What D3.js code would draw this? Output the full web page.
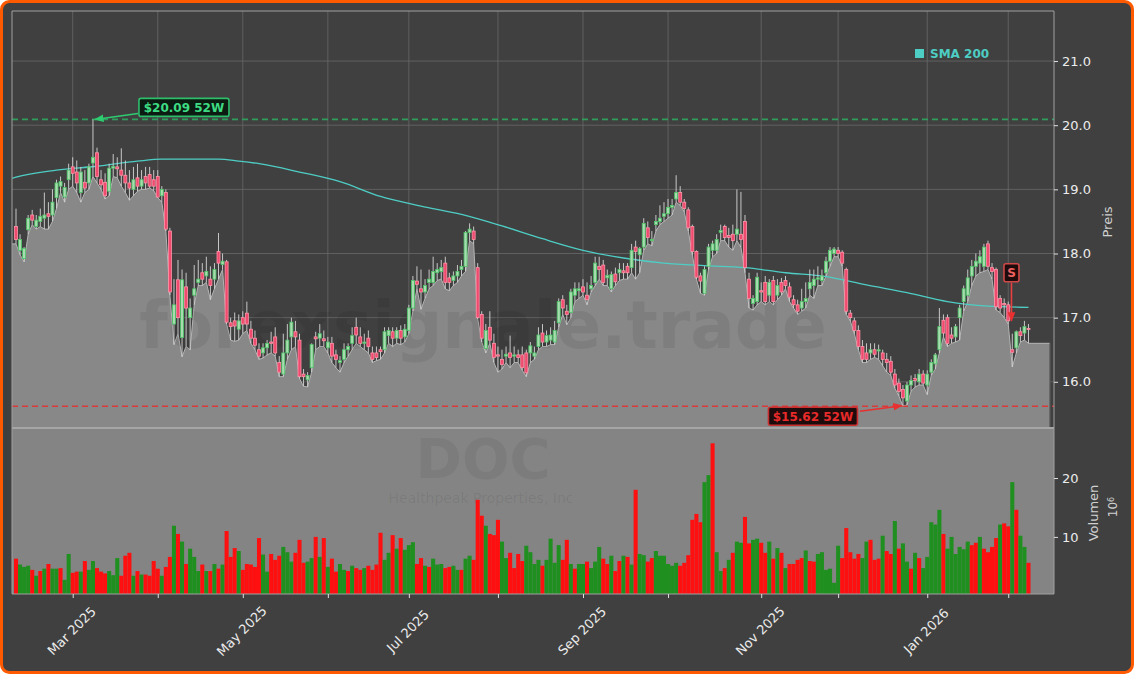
<!DOCTYPE html>
<html><head><meta charset="utf-8">
<script src="https://cdn.jsdelivr.net/npm/d3@7"></script>
<style>html,body{margin:0;padding:0;background:#ffffff;} svg{display:block;font-family:"DejaVu Sans",sans-serif;}</style>
</head><body><svg id="c" width="1134" height="674"></svg>
<script>
// ---------- DATA (trading-day index 0 = 2025-02-10) ----------
const opens=[18.42,18.05,17.92,18.37,18.60,18.42,18.50,18.55,18.62,18.60,18.87,19.05,18.88,19.15,19.35,19.27,18.95,19.11,19.10,19.41,19.57,19.15,19.11,18.97,19.33,19.35,19.30,19.22,19.10,19.00,19.18,19.05,19.20,19.23,19.15,19.20,18.90,18.95,18.35,16.90,17.59,16.69,17.48,17.00,17.35,17.55,17.70,17.65,17.60,17.60,18.03,17.83,17.87,16.92,16.95,16.82,17.00,17.07,16.82,16.68,16.50,16.45,16.53,16.62,16.70,16.30,16.12,16.45,16.70,16.78,16.65,16.12,16.03,16.22,16.70,16.68,16.67,16.53,16.60,16.42,16.30,16.35,16.50,16.60,16.85,16.70,16.60,16.68,16.45,16.45,16.50,16.50,16.72,16.78,16.68,16.80,16.70,16.80,17.15,17.57,17.45,17.40,17.55,17.55,17.70,17.72,17.85,17.62,17.58,17.65,17.75,17.80,18.33,18.35,17.78,17.05,16.52,16.85,16.60,16.42,16.35,16.40,16.45,16.40,16.42,16.42,16.45,16.45,16.40,16.55,16.76,16.62,16.65,16.62,16.92,17.28,17.10,17.08,17.35,17.42,17.48,17.35,17.45,17.55,17.80,17.82,17.62,17.45,17.68,17.70,17.73,17.80,17.78,18.10,17.98,18.10,18.40,18.20,18.45,18.50,18.58,18.62,18.72,18.85,18.95,18.80,18.68,18.42,18.03,17.65,17.38,17.80,18.05,18.05,18.33,18.42,18.28,18.30,18.30,18.30,18.50,17.60,17.22,17.25,17.42,17.55,17.35,17.58,17.35,17.55,17.58,17.48,17.28,17.20,17.15,17.25,17.45,17.50,17.60,17.58,17.70,17.88,18.00,18.05,18.02,17.75,17.07,16.95,16.80,16.55,16.45,16.45,16.50,16.48,16.45,16.35,16.32,16.12,15.98,15.88,15.70,15.95,16.05,16.00,16.12,15.95,16.15,16.28,16.50,16.96,17.00,16.73,16.70,17.00,17.25,17.35,17.65,17.80,17.85,17.80,18.15,17.78,17.75,17.30,17.22,17.20,16.50,16.53,16.78,16.76,16.83];
const highs=[18.70,18.30,18.10,18.60,18.68,18.60,18.70,18.95,18.80,19.00,19.15,19.20,19.10,19.40,19.50,19.45,19.35,19.30,19.40,20.09,19.65,19.30,19.25,19.40,19.55,19.50,19.64,19.45,19.30,19.35,19.40,19.30,19.35,19.35,19.30,19.30,19.05,19.00,18.40,17.60,17.90,17.75,17.70,17.30,17.82,17.90,17.85,17.95,17.80,17.85,18.32,18.00,17.90,17.00,17.08,17.05,17.10,17.25,16.95,16.80,16.60,16.60,16.65,16.78,16.85,16.40,16.75,16.90,17.00,16.95,16.75,16.20,16.15,16.60,16.78,16.90,16.80,16.70,16.70,16.50,16.40,16.60,16.60,16.85,17.00,16.85,16.75,16.80,16.55,16.55,16.55,16.85,16.85,16.85,16.85,16.88,16.90,17.20,17.65,17.80,17.75,17.60,17.75,17.95,17.85,17.90,17.95,17.70,17.72,17.82,17.90,18.35,18.47,18.42,17.85,17.10,16.90,17.10,16.75,16.55,16.50,16.55,16.72,16.55,16.50,16.55,16.50,16.62,16.55,16.85,16.90,16.80,16.85,16.95,17.30,17.35,17.20,17.45,17.55,17.55,17.60,17.55,17.65,17.95,17.95,17.90,17.75,17.72,17.78,17.85,17.85,17.85,18.15,18.20,18.10,18.55,18.50,18.35,18.60,18.75,18.80,18.85,18.85,19.22,19.05,18.85,18.72,18.45,18.05,17.70,17.80,18.15,18.20,18.30,18.45,18.45,18.40,18.45,19.00,18.96,18.60,17.70,17.35,17.70,17.55,17.65,17.60,17.65,17.60,17.62,17.65,17.55,17.35,17.28,17.45,17.55,17.75,17.75,17.80,17.75,17.95,18.10,18.10,18.10,18.05,17.78,17.12,17.00,16.88,16.65,16.60,16.60,16.60,16.58,16.50,16.45,16.40,16.20,16.05,15.95,16.00,16.10,16.12,16.20,16.18,16.18,16.35,16.45,17.15,17.05,17.05,16.85,16.90,17.20,17.50,17.75,17.90,18.00,18.05,18.15,18.20,17.85,17.78,17.35,17.30,17.25,16.75,16.80,16.85,16.95,16.90];
const lows=[18.15,17.98,17.87,18.30,18.45,18.38,18.42,18.38,18.38,18.50,18.70,18.95,18.80,19.00,19.05,18.95,18.80,18.95,19.00,19.20,19.10,19.00,18.85,18.90,19.20,19.18,19.05,18.95,18.83,18.90,18.97,19.00,19.00,19.02,18.98,18.87,18.80,18.35,17.35,16.58,16.75,16.39,16.55,16.50,17.20,17.50,17.50,17.55,17.28,17.45,17.60,17.75,16.90,16.65,16.63,16.65,16.75,16.80,16.60,16.50,16.35,16.37,16.42,16.45,16.40,16.08,16.08,16.35,16.50,16.55,16.05,15.93,15.92,16.15,16.50,16.55,16.55,16.45,16.30,16.22,16.15,16.30,16.40,16.50,16.60,16.55,16.50,16.45,16.30,16.33,16.35,16.45,16.60,16.55,16.60,16.58,16.62,16.75,17.10,17.45,17.13,17.30,17.45,17.50,17.58,17.60,17.45,17.42,17.50,17.55,17.65,17.72,18.20,18.15,16.98,16.62,16.45,16.60,16.30,16.15,16.20,16.30,16.22,16.30,16.30,16.18,16.08,16.30,16.35,16.50,16.55,16.55,16.58,16.58,16.85,17.05,16.89,17.00,17.25,17.30,17.35,17.20,17.40,17.50,17.60,17.50,17.50,17.40,17.50,17.58,17.60,17.60,17.70,17.60,17.70,18.05,18.15,18.12,18.35,18.45,18.50,18.55,18.60,18.80,18.75,18.65,18.35,17.98,17.60,17.38,17.35,17.75,17.95,18.00,18.20,18.20,18.10,18.05,18.20,18.10,17.70,17.15,17.12,17.20,17.25,17.20,17.25,17.20,17.28,17.35,17.45,17.25,17.15,17.05,17.10,17.15,17.35,17.30,17.50,17.50,17.65,17.80,17.95,17.95,17.80,17.05,16.95,16.75,16.50,16.30,16.30,16.35,16.38,16.35,16.25,16.15,16.10,15.90,15.78,15.62,15.64,15.85,15.92,15.95,15.95,15.80,16.10,16.20,16.45,16.70,16.55,16.60,16.62,16.65,17.10,17.25,17.50,17.65,17.70,17.72,17.75,17.60,17.12,17.08,17.00,16.90,16.23,16.45,16.62,16.65,16.60];
const closes=[18.22,18.22,18.08,18.55,18.52,18.52,18.58,18.60,18.58,18.80,19.10,19.12,19.03,19.30,19.25,19.10,19.27,19.02,19.35,19.50,19.20,19.07,18.90,19.33,19.36,19.32,19.22,19.10,19.02,19.15,19.05,19.15,19.10,19.05,19.05,18.88,19.00,18.38,17.40,17.20,17.00,17.59,17.15,17.15,17.45,17.60,17.60,17.72,17.50,17.75,17.85,17.88,16.93,16.86,16.87,16.95,16.90,16.90,16.68,16.57,16.40,16.53,16.60,16.60,16.45,16.15,16.45,16.65,16.93,16.70,16.08,16.08,16.10,16.58,16.67,16.75,16.64,16.62,16.40,16.35,16.33,16.50,16.55,16.72,16.73,16.60,16.62,16.55,16.35,16.38,16.47,16.78,16.80,16.68,16.80,16.68,16.82,17.15,17.58,17.52,17.40,17.50,17.60,17.72,17.75,17.78,17.55,17.55,17.65,17.72,17.80,18.33,18.38,18.22,17.00,16.68,16.80,16.65,16.38,16.40,16.27,16.43,16.38,16.42,16.38,16.22,16.14,16.56,16.45,16.73,16.62,16.72,16.73,16.80,17.25,17.15,17.05,17.40,17.45,17.45,17.40,17.28,17.50,17.85,17.75,17.55,17.66,17.67,17.56,17.75,17.70,17.70,18.05,18.03,18.08,18.47,18.25,18.22,18.50,18.55,18.62,18.72,18.75,18.95,18.80,18.70,18.40,18.03,17.63,17.57,17.75,18.10,18.15,18.22,18.36,18.25,18.25,18.20,18.38,18.22,17.78,17.30,17.30,17.63,17.40,17.25,17.55,17.25,17.50,17.40,17.50,17.32,17.20,17.10,17.25,17.30,17.55,17.60,17.62,17.65,17.88,18.05,18.07,18.00,17.85,17.10,17.00,16.80,16.55,16.35,16.35,16.50,16.43,16.50,16.35,16.30,16.15,15.95,15.85,15.75,15.95,16.02,16.02,16.12,15.98,16.12,16.30,16.42,16.86,16.76,16.60,16.68,16.86,17.15,17.45,17.62,17.80,17.88,17.95,18.10,17.80,17.72,17.17,17.15,17.20,16.95,16.46,16.78,16.72,16.86,16.82];
const volumes=[6.3,5.3,4.9,5.1,4.4,3.4,4.2,4.6,5.4,4.6,4.6,4.7,2.7,7.1,3.9,4.1,4.1,5.9,4.4,5.9,4.7,4.1,3.8,4.2,3.5,6.4,3.4,6.8,7.3,3.4,4.2,3.6,3.6,3.4,5.9,4.6,3.4,4.9,6.6,11.9,10.5,9.2,5.4,8.0,6.6,4.2,5.3,4.2,4.2,5.4,4.6,5.3,11.0,6.6,8.1,7.6,4.4,5.4,5.3,4.9,9.8,7.0,4.1,7.1,6.1,6.8,8.3,7.4,5.8,7.3,9.5,5.6,5.8,6.4,10.0,6.6,9.8,4.9,6.3,4.1,5.4,4.4,4.2,5.1,4.7,4.4,4.7,5.1,4.4,5.3,10.7,6.1,7.3,10.3,8.0,9.8,7.8,8.6,9.1,5.4,6.4,5.1,4.9,6.3,5.3,5.4,4.7,4.9,5.1,4.4,4.4,6.3,6.8,6.1,16.3,13.6,11.9,10.5,10.3,12.9,9.2,6.4,7.3,4.7,7.1,5.9,8.5,7.4,5.4,6.1,5.1,6.1,9.7,5.6,8.6,6.1,9.5,5.4,4.6,5.4,5.4,5.8,4.7,5.8,8.3,6.3,5.4,6.8,4.2,5.9,6.8,6.6,5.3,18.0,7.1,6.9,5.8,6.4,7.6,6.8,6.8,5.4,5.1,5.6,5.1,5.6,6.9,12.9,13.9,12.5,19.3,20.5,25.9,7.4,4.2,4.7,6.1,7.3,9.2,9.0,13.4,8.9,9.5,9.7,9.0,7.3,9.2,6.3,8.1,7.3,4.7,5.4,5.4,6.1,6.4,7.7,5.9,5.8,7.1,7.4,4.4,4.6,2.2,8.5,6.4,11.5,7.4,6.3,7.1,6.4,9.2,9.5,6.1,6.3,10.2,7.6,7.1,12.7,8.0,8.9,5.8,4.6,7.3,6.4,4.7,6.6,12.5,12.1,14.6,10.5,8.0,10.0,7.1,8.3,7.9,9.2,8.6,9.0,10.0,8.0,7.4,8.3,9.8,12.1,12.3,11.8,19.3,14.6,10.2,8.3,5.6];
const volUp=[0,1,1,1,0,1,0,1,0,1,1,0,1,1,0,0,1,0,1,1,0,0,0,1,1,1,0,0,0,1,0,1,0,0,0,0,1,0,0,1,0,1,0,1,1,1,0,1,0,1,0,1,0,0,0,1,0,0,0,0,0,1,1,0,0,0,1,1,1,0,0,0,1,1,0,1,0,1,0,0,1,1,0,1,0,0,1,0,0,0,0,1,1,0,1,0,1,1,1,0,0,1,0,1,1,1,0,0,1,1,0,1,1,0,0,0,1,0,0,0,1,1,0,0,0,0,1,1,1,1,0,1,1,1,1,0,0,1,0,1,1,0,1,1,1,0,0,1,0,0,1,0,1,0,1,1,0,0,1,1,1,1,1,1,0,0,0,0,0,0,1,1,0,1,1,0,1,0,1,1,0,0,1,1,0,0,1,0,1,0,1,0,0,0,0,1,0,0,1,1,1,1,1,1,0,0,0,0,0,1,1,0,0,0,1,0,0,1,0,1,1,0,1,0,1,1,1,1,1,0,1,1,1,1,1,1,0,0,1,0,0,0,0,1,0,0,1,0,1,1];
const smaIdx=[-1,0,10,20,30,36,40,50,55,60,70,80,90,100,110,120,130,140,150,160,170,180,190,200,210,220,230,240,250];
const smaVals=[19.17,19.19,19.30,19.36,19.44,19.47,19.47,19.47,19.44,19.40,19.27,19.12,18.89,18.74,18.61,18.43,18.23,18.05,17.93,17.85,17.81,17.78,17.70,17.64,17.51,17.39,17.25,17.18,17.16];
const monthIdx=[14,35,56,77,97,119,140,161,184,203,225,245];
const monthLabels=["Mar 2025","","May 2025","","Jul 2025","","Sep 2025","","Nov 2025","","Jan 2026",""];
const priceTicks=[16,17,18,19,20,21];
const volTicks=[10,20];
const high52={idx:19,value:20.09,label:"$20.09 52W"};
const low52={idx:219,value:15.62,label:"$15.62 52W"};
const sellSignal={idx:245.8,label:"S",top:17.7,tip:16.95};
const areaEnd=255.3;

// ---------- LAYOUT ----------
const svg=d3.select("#c");
const L=12,R=1054,PT=11,PB=428,VB=594;
const x=d3.scaleLinear().domain([-0.99,256.3]).range([L,R]);
const y=d3.scaleLinear().domain([15.28,21.78]).range([PB,PT]);
const yv=d3.scaleLinear().domain([0.3,28.5]).range([VB,PB]);
const n=closes.length;
const idx=d3.range(n);

svg.append("rect").attr("x",1.5).attr("y",1.5).attr("width",1131).attr("height",671).attr("rx",8)
  .attr("fill","#404040").attr("stroke","#ff5a00").attr("stroke-width",3);

const defs=svg.append("defs");
defs.append("clipPath").attr("id","pclip").append("rect").attr("x",L).attr("y",PT).attr("width",R-L).attr("height",PB-PT);
function marker(id,col){defs.append("marker").attr("id",id).attr("viewBox","0 0 10 10").attr("refX",9).attr("refY",5)
  .attr("markerWidth",6).attr("markerHeight",6).attr("orient","auto-start-reverse")
  .append("path").attr("d","M0,1 L10,5 L0,9 z").attr("fill",col);}
marker("ag","#2ecc71");marker("ar","#e83030");

const P=svg.append("g").attr("clip-path","url(#pclip)");
// grid
P.selectAll("line.hg").data(priceTicks).join("line").attr("x1",L).attr("x2",R)
  .attr("y1",d=>y(d)).attr("y2",d=>y(d)).attr("stroke","#686868").attr("stroke-width",0.8);
P.selectAll("line.vg").data(monthIdx).join("line").attr("x1",d=>x(d)).attr("x2",d=>x(d))
  .attr("y1",PT).attr("y2",PB).attr("stroke","#686868").attr("stroke-width",0.8);

// area of lows
const areaIdx=[-0.99].concat(idx).concat([areaEnd]);
const lowAt=i=>i<0?lows[0]:(i>=n?lows[n-1]:lows[i]);
P.append("path").datum(areaIdx).attr("fill","#888888")
  .attr("d",d3.area().x(d=>x(d)).y0(PB).y1(d=>y(lowAt(d))));
P.append("path").datum(areaIdx).attr("fill","none").attr("stroke","#b4b4b4").attr("stroke-width",1)
  .attr("d",d3.line().x(d=>x(d)).y(d=>y(lowAt(d))));
P.append("line").attr("x1",x(areaEnd)).attr("x2",x(areaEnd)).attr("y1",y(lows[n-1])).attr("y2",PB)
  .attr("stroke","#5a5a5a").attr("stroke-width",1.2);

// watermark
P.append("text").attr("x",483).attr("y",348).attr("text-anchor","middle").attr("font-size",66)
  .attr("font-weight","bold").attr("fill","#000").attr("fill-opacity",0.07).text("forexsignale.trade");

// 52W lines
P.append("line").attr("x1",L).attr("x2",R).attr("y1",y(high52.value)).attr("y2",y(high52.value))
  .attr("stroke","#2f9e5c").attr("stroke-width",1.6).attr("stroke-dasharray","6,4");
P.append("line").attr("x1",L).attr("x2",R).attr("y1",y(low52.value)).attr("y2",y(low52.value))
  .attr("stroke","#d83a3a").attr("stroke-width",1.4).attr("stroke-dasharray","6,4");

// SMA
P.append("path").datum(d3.range(smaIdx.length)).attr("fill","none").attr("stroke","#4ecdc4").attr("stroke-width",1.3)
  .attr("d",d3.line().curve(d3.curveMonotoneX).x(i=>x(smaIdx[i])).y(i=>y(smaVals[i])));

// candles
const cg=P.append("g");
cg.selectAll("line").data(idx).join("line").attr("x1",i=>x(i)).attr("x2",i=>x(i))
  .attr("y1",i=>y(highs[i])).attr("y2",i=>y(lows[i])).attr("stroke","#d6d6d6").attr("stroke-width",0.9);
cg.selectAll("rect").data(idx).join("rect")
  .attr("x",i=>x(i)-1.5).attr("width",3)
  .attr("y",i=>y(Math.max(opens[i],closes[i])))
  .attr("height",i=>Math.max(1,Math.abs(y(opens[i])-y(closes[i]))))
  .attr("fill",i=>closes[i]>=opens[i]?"#a8dcb0":"#f04a6e")
  .attr("stroke",i=>closes[i]>=opens[i]?"#4cc466":"#ff94a8").attr("stroke-width",0.8);

// annotations
function label(g,cx,cy,w,h,txt,fill,stroke,col){
  g.append("rect").attr("x",cx-w/2).attr("y",cy-h/2).attr("width",w).attr("height",h).attr("rx",2)
   .attr("fill",fill).attr("stroke",stroke).attr("stroke-width",1.6);
  g.append("text").attr("x",cx).attr("y",cy).attr("dy","0.36em").attr("text-anchor","middle")
   .attr("font-size",12).attr("font-weight","bold").attr("fill",col).text(txt);
}
const A=svg.append("g");
const hx=x(high52.idx), hy=y(high52.value);
A.append("line").attr("x1",hx+45).attr("y1",hy-6).attr("x2",hx+2).attr("y2",hy)
  .attr("stroke","#2ecc71").attr("stroke-width",1.6).attr("marker-end","url(#ag)");
label(A,hx+91,hy-12,90,18,high52.label,"#0c1c12","#2ebd6b","#3ddc84");
const lx=x(low52.idx), ly=y(low52.value);
A.append("line").attr("x1",lx-43).attr("y1",ly+5).attr("x2",lx-1).attr("y2",ly-0.5)
  .attr("stroke","#e83030").attr("stroke-width",1.6).attr("marker-end","url(#ar)");
label(A,lx-90,ly+10,89,18,low52.label,"#1e0c0c","#c83030","#e82a2a");
const sx=x(sellSignal.idx);
A.append("line").attr("x1",sx).attr("y1",y(sellSignal.top)+10).attr("x2",sx).attr("y2",y(sellSignal.tip))
  .attr("stroke","#e84040").attr("stroke-width",1.6).attr("marker-end","url(#ar)");
label(A,sx,y(sellSignal.top),15,18,sellSignal.label,"#1e0c0c","#d04848","#f06060");

// legend
svg.append("rect").attr("x",915).attr("y",49).attr("width",9).attr("height",9).attr("fill","#4ecdc4");
svg.append("text").attr("x",930).attr("y",58).attr("font-size",12).attr("font-weight","bold").attr("fill","#4ecdc4").text("SMA 200");

// volume panel
const V=svg.append("g");
V.append("rect").attr("x",L).attr("y",PB).attr("width",R-L).attr("height",VB-PB).attr("fill","#848484");
V.append("text").attr("x",483).attr("y",478).attr("text-anchor","middle").attr("font-size",56).attr("font-weight","bold")
  .attr("fill","#000").attr("fill-opacity",0.06).text("DOC");
V.append("text").attr("x",481).attr("y",503).attr("text-anchor","middle").attr("font-size",14)
  .attr("fill","#000").attr("fill-opacity",0.07).text("Healthpeak Properties, Inc");
V.selectAll("rect.vb").data(idx).join("rect").attr("class","vb")
  .attr("x",i=>x(i)-2.03).attr("width",4.06)
  .attr("y",i=>yv(volumes[i])).attr("height",i=>VB-yv(volumes[i]))
  .attr("fill",i=>volUp[i]?"#1f8f1f":"#ff1010");
V.append("line").attr("x1",L).attr("x2",R).attr("y1",PB).attr("y2",PB).attr("stroke","#a6a6a6").attr("stroke-width",2);

// spines
const sp="#a0a0a0";
svg.append("line").attr("x1",L).attr("x2",R).attr("y1",PT).attr("y2",PT).attr("stroke",sp);
svg.append("line").attr("x1",L).attr("x2",L).attr("y1",PT).attr("y2",VB).attr("stroke",sp);
svg.append("line").attr("x1",R).attr("x2",R).attr("y1",PT).attr("y2",VB).attr("stroke",sp);
svg.append("line").attr("x1",L).attr("x2",R).attr("y1",VB).attr("y2",VB).attr("stroke",sp);

// price axis
const pa=svg.append("g").attr("transform",`translate(${R},0)`)
  .call(d3.axisRight(y).tickValues(priceTicks).tickFormat(d3.format(".1f")).tickSize(4).tickPadding(4));
pa.select(".domain").remove();
pa.selectAll("line").attr("stroke","#e0e0e0");
pa.selectAll("text").attr("fill","#ececec").attr("font-size",13).attr("font-family","DejaVu Sans");
// volume axis
const va=svg.append("g").attr("transform",`translate(${R},0)`)
  .call(d3.axisRight(yv).tickValues(volTicks).tickFormat(d3.format("d")).tickSize(4).tickPadding(4));
va.select(".domain").remove();
va.selectAll("line").attr("stroke","#e0e0e0");
va.selectAll("text").attr("fill","#ececec").attr("font-size",13).attr("font-family","DejaVu Sans");
// x axis
const xa=svg.append("g").attr("transform",`translate(0,${VB})`)
  .call(d3.axisBottom(x).tickValues(monthIdx).tickFormat(()=>"").tickSize(4));
xa.select(".domain").remove();
xa.selectAll("line").attr("stroke","#e0e0e0");
svg.selectAll("text.xl").data(monthIdx.map((m,i)=>[m,monthLabels[i]]).filter(d=>d[1])).join("text")
  .attr("class","xl").attr("transform",d=>`translate(${x(d[0])-1},631) rotate(-45)`)
  .attr("text-anchor","middle").attr("dy","0.35em").attr("font-size",13).attr("fill","#ececec").text(d=>d[1]);

// axis titles
svg.append("text").attr("transform","translate(1107,222) rotate(-90)").attr("text-anchor","middle").attr("dy","0.35em")
  .attr("font-size",13).attr("fill","#d0d0d0").text("Preis");
svg.append("text").attr("transform","translate(1093,513) rotate(-90)").attr("text-anchor","middle").attr("dy","0.35em")
  .attr("font-size",13).attr("fill","#d0d0d0").text("Volumen");
const t6=svg.append("text").attr("transform","translate(1113,507) rotate(-90)").attr("text-anchor","middle").attr("dy","0.35em")
  .attr("font-size",12).attr("fill","#d0d0d0");
t6.append("tspan").text("10");
t6.append("tspan").attr("dy","-0.45em").attr("font-size",8).text("6");
</script></body></html>
